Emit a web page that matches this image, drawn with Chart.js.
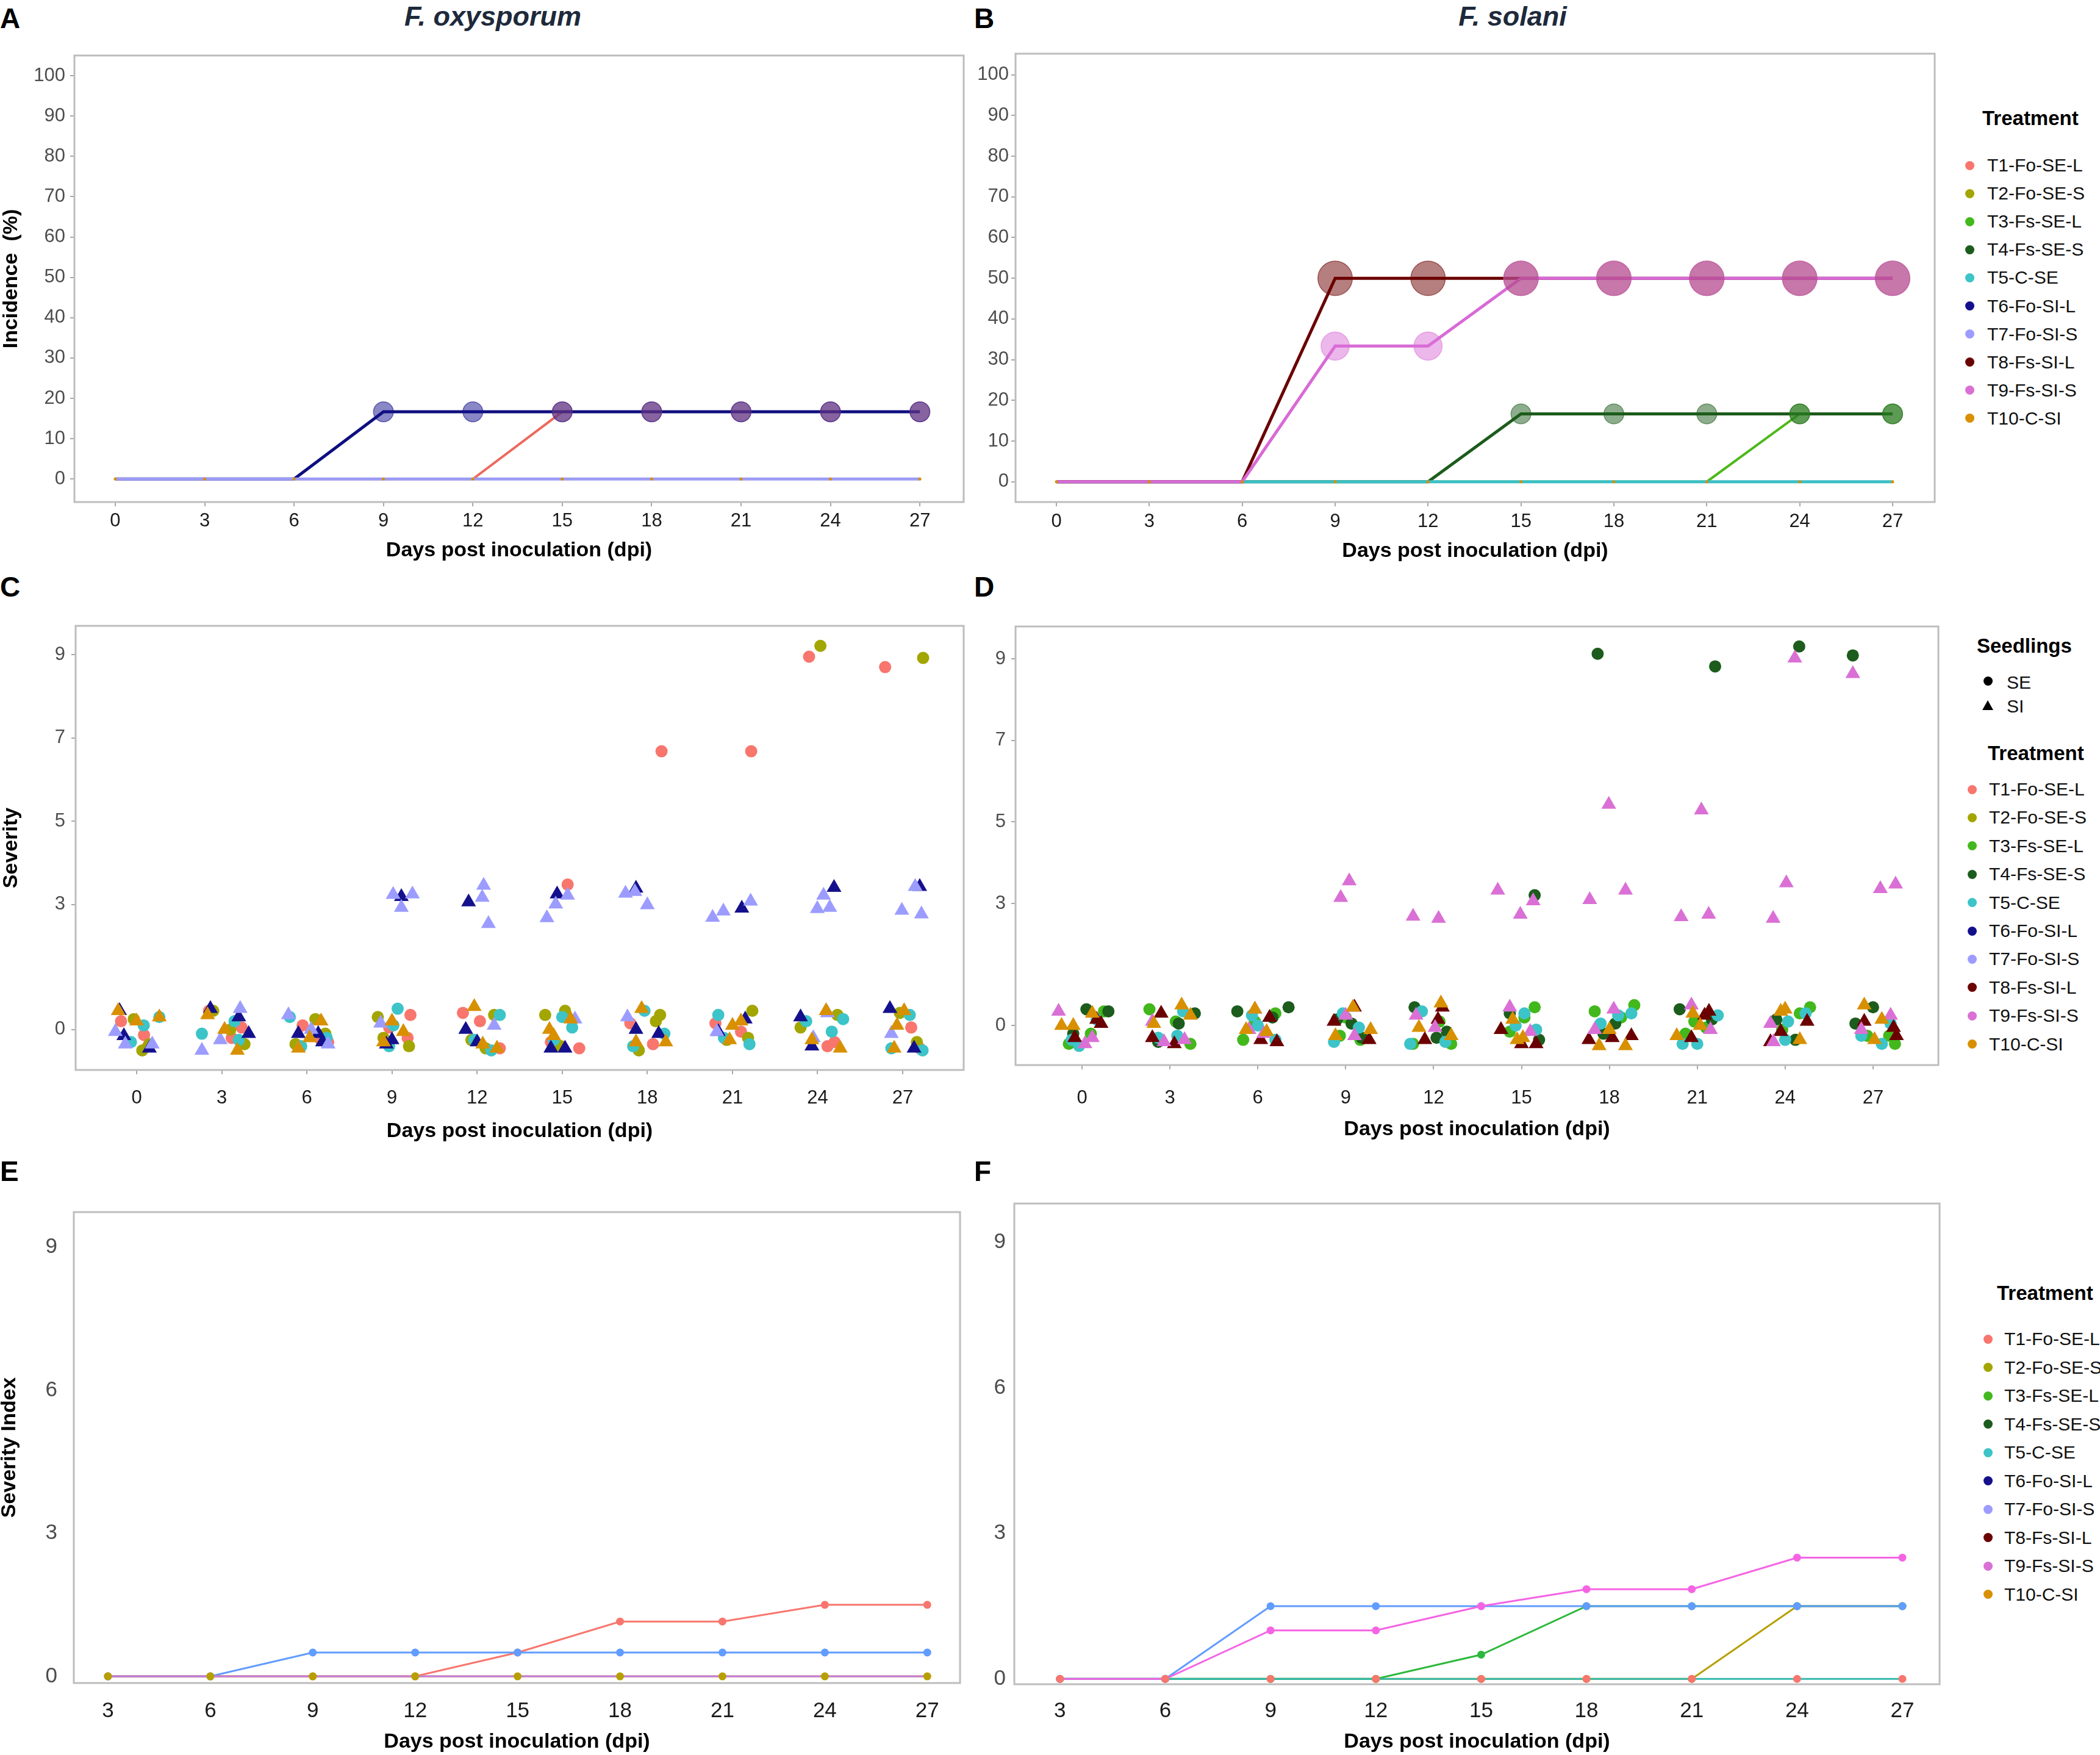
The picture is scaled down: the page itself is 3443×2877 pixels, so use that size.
<!DOCTYPE html>
<html><head><meta charset="utf-8">
<script src="https://cdn.jsdelivr.net/npm/chart.js@4.4.1/dist/chart.umd.min.js"></script>
<style>
html,body{margin:0;padding:0;background:#fff;}
#page{position:relative;width:3443px;height:2877px;background:#fff;overflow:hidden;font-family:'Liberation Sans',Arial,Helvetica,sans-serif;}
.txt{position:absolute;white-space:nowrap;color:#000;}
.dot{position:absolute;border-radius:50%;}
.tri{position:absolute;width:0;height:0;border-left:9px solid transparent;border-right:9px solid transparent;border-bottom:16px solid #000;}
</style></head>
<body><div id="page"></div>
<script>
// ---------------- DATA ----------------
const days = [0,3,6,9,12,15,18,21,24,27];
const daysIdx = [3,6,9,12,15,18,21,24,27];
const ticksDays = [0,3,6,9,12,15,18,21,24,27];
const ticksDaysIdx = [3,6,9,12,15,18,21,24,27];
const ticksIncidence = [0,10,20,30,40,50,60,70,80,90,100];
const ticksSeverity = [0,3,5,7,9];
const ticksIndex = [0,3,6,9];
const treatments = ['T1-Fo-SE-L','T2-Fo-SE-S','T3-Fs-SE-L','T4-Fs-SE-S','T5-C-SE','T6-Fo-SI-L','T7-Fo-SI-S','T8-Fs-SI-L','T9-Fs-SI-S','T10-C-SI'];
const treatmentColors = ['#F8766D','#A3A500','#42B81C','#1C5C1C','#3CC4C8','#14108C','#9C9CFF','#6B0000','#DA70D6','#D89000'];

// Panel A : incidence (%), F. oxysporum
const incA_T1 = [0,0,0,0,0,16.67,16.67,16.67,16.67,16.67];
const incA_T6 = [0,0,0,16.67,16.67,16.67,16.67,16.67,16.67,16.67];
const incA_T7 = [0,0,0,0,0,0,0,0,0,0];
const incA_T10 = [0,0,0,0,0,0,0,0,0,0];
// Panel B : incidence (%), F. solani
const incB_T3 = [0,0,0,0,0,0,0,0,16.67,16.67];
const incB_T4 = [0,0,0,0,0,16.67,16.67,16.67,16.67,16.67];
const incB_T5 = [0,0,0,0,0,0,0,0,0,0];
const incB_T8 = [0,0,0,50,50,50,50,50,50,50];
const incB_T9 = [0,0,0,33.33,33.33,50,50,50,50,50];
const incB_T10 = [0,0,0,0,0,0,0,0,0,0];

// Panel C : severity (jittered observations), F. oxysporum
const sevC_T1_x = [0.26,0.40,-0.55,2.55,3.35,3.7,5.85,6.5,6.75,8.9,9.55,9.65,11.5,12.8,12.1,15.19,14.6,15.6,18.5,17.4,18.2,21.66,20.4,21.3,23.7,24.6,24.35,26.38,27.3,27.6];
const sevC_T1_y = [-0.13,-0.4,0.2,0.45,-0.2,0.05,0.1,-0.25,-0.3,0.05,-0.2,0.35,0.4,-0.45,0.2,3.48,-0.3,-0.45,6.68,0.15,-0.35,6.68,0.15,-0.05,8.95,-0.3,-0.4,8.7,0.05,-0.45];
const sevC_T2_x = [-0.1,0.45,0.2,3.8,2.7,3.3,6.65,5.6,6.3,8.5,8.7,9.6,12.6,12.3,11.8,14.4,15.1,14.95,18.45,17.7,18.3,21.7,20.8,21.55,24.1,23.4,24.7,27.72,26.9,27.5];
const sevC_T2_y = [0.25,-0.35,-0.5,-0.35,0.45,0.0,-0.1,-0.35,0.25,0.3,-0.2,-0.4,0.35,-0.45,-0.25,0.35,0.45,-0.4,0.35,-0.5,0.2,0.45,-0.25,-0.2,9.21,0.05,0.35,8.92,0.4,-0.3];
const sevC_T5_x = [0.8,-0.2,0.25,3.45,2.3,3.6,5.4,5.8,6.7,9.2,8.9,9.05,12.8,11.9,12.5,15.0,14.7,15.35,17.5,18.6,17.9,20.5,21.6,20.7,24.5,23.6,24.9,27.25,26.6,27.7];
const sevC_T5_y = [0.3,-0.3,0.1,0.2,-0.1,-0.25,0.3,-0.4,-0.2,0.5,-0.4,0.1,0.35,-0.25,-0.5,0.3,-0.25,0.05,-0.4,-0.1,0.45,0.35,-0.35,-0.2,-0.05,0.2,0.25,0.35,-0.45,-0.5];
const sevC_T6_x = [-0.6,-0.45,0.45,2.6,3.6,3.95,5.7,6.4,6.55,9.33,8.8,9.0,11.7,11.6,12.0,14.82,14.6,15.1,17.6,17.6,18.4,21.33,20.5,21.45,24.58,23.4,23.8,27.6,26.55,27.4];
const sevC_T6_y = [0.45,-0.15,-0.45,0.5,0.3,-0.1,-0.1,-0.1,-0.3,3.19,-0.35,-0.25,3.06,0.0,-0.3,3.25,-0.45,-0.45,3.39,0.0,-0.1,2.91,-0.05,0.25,3.41,0.3,-0.4,3.43,0.5,-0.45];
const sevC_T7_x = [-0.75,-0.4,0.55,2.3,3.65,2.95,5.35,6.15,6.75,9.04,9.72,9.33,12.18,12.23,12.4,14.46,14.77,15.19,17.23,17.56,18.0,20.3,20.68,21.64,23.99,24.21,24.43,26.97,27.44,27.66,8.6,12.6,15.45,17.3,20.45,23.85,26.6,24.35];
const sevC_T7_y = [-0.05,-0.35,-0.35,-0.5,0.5,-0.25,0.35,0.0,-0.35,3.24,3.25,2.93,3.17,3.46,2.54,2.68,3.01,3.22,3.27,3.31,2.99,2.69,2.84,3.08,2.9,3.22,2.93,2.86,3.43,2.77,0.15,0.1,0.25,0.3,-0.05,-0.2,-0.1,0.4];
const sevC_T10_x = [-0.65,0.0,0.8,2.5,3.1,3.55,5.7,6.1,6.5,9.0,8.7,9.4,11.9,12.7,12.2,14.55,14.7,15.3,17.6,18.65,17.8,20.9,21.3,21.0,23.8,24.8,24.3,26.8,27.05,26.7];
const sevC_T10_y = [0.45,0.2,0.3,0.35,0.0,-0.5,-0.45,-0.2,0.2,0.2,-0.3,-0.05,0.55,-0.45,-0.35,0.0,-0.15,0.25,-0.3,-0.3,0.5,-0.25,0.2,0.1,-0.25,-0.45,0.45,0.1,0.45,-0.45];

// Panel D : severity (jittered observations), F. solani
const sevD_T3_x = [-0.45,0.3,0.75,2.3,3.7,3.2,5.5,6.6,5.9,8.8,9.5,9.0,11.3,12.6,12.2,14.6,15.45,15.1,17.5,18.4,18.85,20.6,21.3,20.9,23.9,24.85,24.5,26.8,27.55,27.75];
const sevD_T3_y = [-0.45,-0.2,0.35,0.4,-0.45,0.1,-0.35,0.3,0.1,-0.25,-0.35,0.2,-0.45,-0.45,0.1,-0.15,0.45,0.2,0.35,0.2,0.5,-0.2,-0.05,0.1,-0.1,0.45,0.3,-0.25,-0.25,-0.45];
const sevD_T4_x = [0.15,0.9,-0.3,3.3,2.6,3.85,5.3,6.5,7.05,8.7,9.2,9.55,11.35,12.45,12.1,15.45,14.6,15.6,17.6,18.2,17.8,21.61,20.4,21.5,24.48,24.35,23.7,26.31,26.4,27.0];
const sevD_T4_y = [0.4,0.35,-0.2,0.05,-0.4,0.3,0.35,0.2,0.45,0.15,0.05,-0.3,0.45,-0.15,-0.3,3.2,0.3,-0.35,9.13,0.05,-0.2,8.82,0.4,0.15,9.31,-0.35,0.15,9.09,0.05,0.45];
const sevD_T5_x = [-0.35,-0.1,0.5,2.6,3.25,3.45,5.8,6.0,6.6,8.9,9.45,8.6,11.2,11.6,12.4,15.1,14.8,15.5,18.3,17.7,18.75,20.5,21.0,21.7,24.1,24.0,24.7,26.6,27.3,27.6];
const sevD_T5_y = [-0.35,-0.5,0.15,-0.3,-0.25,0.35,0.25,0.0,-0.35,0.3,-0.05,-0.4,-0.45,0.35,-0.4,0.3,0.0,-0.1,0.25,0.05,0.3,-0.45,-0.45,0.25,0.1,-0.35,0.3,-0.25,-0.45,0.05];
const sevD_T8_x = [-0.25,0.5,0.65,2.4,2.7,3.15,6.1,6.65,6.4,8.6,9.3,9.8,11.7,12.15,12.3,14.3,15.0,15.5,17.3,18.1,18.75,20.8,21.25,21.4,23.5,23.85,24.75,26.7,27.7,27.8];
const sevD_T8_y = [-0.3,0.15,0.05,-0.3,0.3,-0.45,-0.35,-0.4,0.2,0.1,0.45,-0.35,-0.35,0.15,0.45,-0.1,-0.45,-0.45,-0.35,-0.3,-0.25,-0.3,0.25,0.35,-0.4,-0.15,0.1,0.1,-0.05,-0.25];
const sevD_T9_x = [8.83,9.12,11.3,12.17,14.19,14.96,15.4,17.33,17.98,18.55,20.45,21.14,21.39,23.59,24.04,24.33,26.31,27.25,27.77,-0.8,0.1,0.35,2.4,2.8,3.5,5.7,5.9,6.2,9.3,9.0,11.4,12.05,14.6,15.3,17.5,18.15,20.8,21.45,23.6,23.5,26.6,27.6];
const sevD_T9_y = [3.14,3.55,2.68,2.63,3.32,2.73,3.06,3.09,5.43,3.32,2.67,5.29,2.73,2.63,3.5,9.02,8.64,3.36,3.47,0.35,-0.45,-0.3,0.1,-0.4,-0.35,-0.1,0.4,-0.2,-0.25,0.25,0.25,-0.05,0.45,-0.15,-0.1,0.4,0.5,-0.1,-0.4,0.05,-0.1,0.25];
const sevD_T10_x = [-0.7,-0.3,0.35,2.45,3.4,3.7,5.6,5.9,6.3,8.65,9.25,9.85,11.5,12.25,12.6,14.7,14.85,15.05,17.65,18.0,18.55,20.3,20.85,21.1,23.85,24.0,24.5,26.7,27.05,27.3];
const sevD_T10_y = [0.0,0.0,0.3,0.05,0.5,0.25,-0.1,0.4,-0.15,-0.25,0.45,-0.1,-0.05,0.55,-0.25,0.15,-0.35,-0.3,-0.5,-0.1,-0.5,-0.25,0.3,0.0,0.35,0.4,-0.35,0.5,-0.35,0.15];

// Panel E : severity index, F. oxysporum
const sidxE_red = [0,0,0,0,0.5,1.15,1.15,1.5,1.5];
const sidxE_blue = [0,0,0.5,0.5,0.5,0.5,0.5,0.5,0.5];
const sidxE_purple = [0,0,0,0,0,0,0,0,0];
const sidxE_olive = [0,0,0,0,0,0,0,0,0];
// Panel F : severity index, F. solani
const sidxF_olive = [0,0,0,0,0,0,0,1.5,1.5];
const sidxF_green = [0,0,0,0,0.5,1.5,1.5,1.5,1.5];
const sidxF_blue = [0,0,1.5,1.5,1.5,1.5,1.5,1.5,1.5];
const sidxF_teal = [0,0,0,0,0,0,0,0,0];
const sidxF_pink = [0,0,1.0,1.0,1.5,1.85,1.85,2.5,2.5];
const sidxF_red = [0,0,0,0,0,0,0,0,0];

// ---------------- RENDER ----------------
const FONT = "'Liberation Sans', Arial, Helvetica, sans-serif";
Chart.defaults.font.family = FONT;
const X_TITLE = 'Days post inoculation (dpi)';
const page = document.getElementById('page');
const T = i => treatmentColors[i - 1];

function rgba(hex, a){const n=parseInt(hex.slice(1),16);return `rgba(${(n>>16)&255},${(n>>8)&255},${n&255},${a})`;}
function series(xs, ys){return xs.map((x,i)=>({x:x,y:ys[i]}));}

const boxPlugin = {id:'box', afterDatasetsDraw(chart){const {ctx,chartArea:a}=chart;ctx.save();ctx.strokeStyle='#bdbdbd';ctx.lineWidth=3;ctx.strokeRect(a.left,a.top,a.right-a.left,a.bottom-a.top);ctx.restore();}};

function xAxis(g, min, max, tv, o){
  return {type:'linear', position:'bottom', min:min, max:max,
    afterBuildTicks: s => { s.ticks = tv.map(v => ({value:v})); },
    afterFit: s => { s.height = g.xH; },
    grid:{display:o.tick, drawOnChartArea:false, drawTicks:o.tick, tickLength:o.tick?7:0, color:'#a8a8a8', lineWidth:2},
    border:{display:false},
    ticks:{autoSkip:false, maxRotation:0, minRotation:0, padding:o.pad, color:'#1a1a1a', font:{size:o.fs, family:FONT}},
    title:{display:true, text:X_TITLE, color:'#000', font:{size:34, weight:'bold', family:FONT}, padding:0}};
}
function yAxis(g, min, max, tv, o){
  return {type:'linear', position:'left', min:min, max:max,
    afterBuildTicks: s => { s.ticks = tv.map(v => ({value:v})); },
    afterFit: s => { s.width = g.yW; },
    grid:{display:o.tick, drawOnChartArea:false, drawTicks:o.tick, tickLength:o.tick?7:0, color:'#a8a8a8', lineWidth:2},
    border:{display:false},
    ticks:{padding:o.pad, color:'#4d4d4d', font:{size:o.fs, family:FONT}},
    title: o.title ? {display:true, text:o.title, color:'#000', font:{size:34, weight:'bold', family:FONT}, padding:{top:o.tpad, bottom:0}} : {display:false}};
}
function makeChart(g, datasets, scales){
  const W = g.yW + (g.R - g.L) + g.padR, H = g.padT + (g.B - g.T) + g.xH;
  const c = document.createElement('canvas');
  c.width = W; c.height = H;
  c.style.cssText = `position:absolute;left:${g.L-g.yW}px;top:${g.T-g.padT}px;width:${W}px;height:${H}px;`;
  page.appendChild(c);
  return new Chart(c, {type:'scatter', data:{datasets:datasets.slice().reverse()},
    options:{responsive:false, devicePixelRatio:1, animation:false, events:[],
      layout:{padding:{top:g.padT, right:g.padR, left:0, bottom:0}},
      plugins:{legend:{display:false}, tooltip:{enabled:false}}, scales:scales},
    plugins:[boxPlugin]});
}

// incidence helpers
const incRadius = ctx => { const v = ctx.raw ? ctx.raw.y : 0; return v > 0 ? 4*Math.sqrt(v) : 0; };
function incLine(arr, col, w){ return {data:series(days, arr), showLine:true, borderColor:col, borderWidth:w, pointRadius:0, pointHoverRadius:0}; }
function incPts(arr, col){ return {data:series(days, arr), showLine:false, pointRadius:incRadius, pointHoverRadius:incRadius, backgroundColor:rgba(col,0.5), borderColor:rgba(col,0.55), borderWidth:1.5}; }
function tinyPts(arr, col){ return {data:series(days, arr), showLine:false, pointRadius:2.5, pointHoverRadius:2.5, backgroundColor:col, borderWidth:0}; }

// Panel A
const gA = {L:122, T:91, R:1580, B:823, yW:122, xH:100, padT:30, padR:30};
makeChart(gA, [
  incLine(incA_T1, '#EC6A5E', 4), incLine(incA_T6, '#0E0E80', 5), incLine(incA_T7, '#9C9CF6', 5),
  incPts(incA_T1, T(1)), incPts(incA_T6, T(6)), tinyPts(incA_T10, T(10))
], {x:xAxis(gA,-1.37,28.47,ticksDays,{tick:true,pad:6,fs:31}), y:yAxis(gA,-5.7,105,ticksIncidence,{tick:true,pad:8,fs:31,title:'Incidence  (%)',tpad:-2})});

// Panel B
const gB = {L:1665, T:88, R:3172, B:823, yW:70, xH:101, padT:30, padR:30};
makeChart(gB, [
  incLine(incB_T3, '#4CB81A', 4), incLine(incB_T4, '#1C5C1C', 5), incLine(incB_T5, '#3CC0C4', 5),
  incLine(incB_T8, '#6B0000', 5), incLine(incB_T9, '#D86AD6', 5),
  incPts(incB_T3, T(3)), incPts(incB_T4, T(4)), incPts(incB_T8, T(8)), incPts(incB_T9, T(9)), tinyPts(incB_T10, T(10))
], {x:xAxis(gB,-1.32,28.36,ticksDays,{tick:true,pad:7,fs:31}), y:yAxis(gB,-5,105.2,ticksIncidence,{tick:true,pad:4,fs:31})});

// severity scatter helpers
function sevPts(xs, ys, col, shape){ const r = shape === 'triangle' ? 14 : 10;
  return {data:series(xs, ys), showLine:false, pointStyle:shape, pointRadius:r, pointHoverRadius:r, backgroundColor:col, borderColor:col, borderWidth:0}; }

// Panel C
const gC = {L:124, T:1026, R:1580, B:1754, yW:124, xH:121, padT:30, padR:30};
makeChart(gC, [
  sevPts(sevC_T1_x, sevC_T1_y, T(1), 'circle'), sevPts(sevC_T2_x, sevC_T2_y, T(2), 'circle'),
  sevPts(sevC_T5_x, sevC_T5_y, T(5), 'circle'), sevPts(sevC_T6_x, sevC_T6_y, T(6), 'triangle'),
  sevPts(sevC_T7_x, sevC_T7_y, T(7), 'triangle'), sevPts(sevC_T10_x, sevC_T10_y, T(10), 'triangle')
], {x:xAxis(gC,-2.15,29.15,ticksDays,{tick:true,pad:21,fs:31}), y:yAxis(gC,-0.97,9.69,ticksSeverity,{tick:true,pad:10,fs:31,title:'Severity',tpad:-2})});

// Panel D
const gD = {L:1665, T:1027, R:3178, B:1746, yW:70, xH:126, padT:30, padR:30};
makeChart(gD, [
  sevPts(sevD_T3_x, sevD_T3_y, T(3), 'circle'), sevPts(sevD_T4_x, sevD_T4_y, T(4), 'circle'),
  sevPts(sevD_T5_x, sevD_T5_y, T(5), 'circle'), sevPts(sevD_T8_x, sevD_T8_y, T(8), 'triangle'),
  sevPts(sevD_T9_x, sevD_T9_y, T(9), 'triangle'), sevPts(sevD_T10_x, sevD_T10_y, T(10), 'triangle')
], {x:xAxis(gD,-2.27,29.23,ticksDays,{tick:true,pad:29,fs:31}), y:yAxis(gD,-0.97,9.8,ticksSeverity,{tick:true,pad:9,fs:31})});

// severity index helpers
const PAL6 = {red:'#F8766D', olive:'#B79F00', green:'#2DB83C', teal:'#34B8AC', blue:'#619CFF', pink:'#F564E3', purple:'#C77CE6'};
function idxLine(arr, col){ return {data:series(daysIdx, arr), showLine:true, borderColor:col, borderWidth:3, pointRadius:0, pointHoverRadius:0}; }
function idxPts(arr, col){ return {data:series(daysIdx, arr), showLine:false, pointRadius:6.5, pointHoverRadius:6.5, backgroundColor:col, borderWidth:0}; }

// Panel E
const gE = {L:121, T:1969, R:1574, B:2759, yW:121, xH:117, padT:30, padR:30};
makeChart(gE, [
  idxLine(sidxE_red, PAL6.red), idxLine(sidxE_blue, PAL6.blue), idxLine(sidxE_olive, PAL6.olive), idxLine(sidxE_purple, PAL6.purple),
  idxPts(sidxE_red, PAL6.red), idxPts(sidxE_blue, PAL6.blue), idxPts(sidxE_olive, PAL6.olive)
], {x:xAxis(gE,2.0,27.96,ticksDaysIdx,{tick:false,pad:25,fs:35}), y:yAxis(gE,-0.14,9.74,ticksIndex,{tick:false,pad:27,fs:35,title:'Severity Index',tpad:-5})});

// Panel F
const gF = {L:1663, T:1968, R:3180, B:2761, yW:70, xH:115, padT:30, padR:30};
makeChart(gF, [
  idxLine(sidxF_olive, PAL6.olive), idxLine(sidxF_green, PAL6.green), idxLine(sidxF_blue, PAL6.blue),
  idxLine(sidxF_teal, PAL6.teal), idxLine(sidxF_pink, PAL6.pink),
  idxPts(sidxF_olive, PAL6.olive), idxPts(sidxF_green, PAL6.green), idxPts(sidxF_blue, PAL6.blue),
  idxPts(sidxF_pink, PAL6.pink), idxPts(sidxF_red, PAL6.red)
], {x:xAxis(gF,1.7,28.06,ticksDaysIdx,{tick:false,pad:23,fs:35}), y:yAxis(gF,-0.11,9.8,ticksIndex,{tick:false,pad:14,fs:35})});

// ---------------- TEXT: letters, titles, legends ----------------
function addText(text, left, cy, css, center){
  const d = document.createElement('div'); d.className = 'txt'; d.textContent = text;
  d.style.cssText += css + `;left:${left}px;top:${cy}px;line-height:1;transform:translate(${center?'-50%':'0'},-50%);`;
  page.appendChild(d); return d;
}
function addDot(cx, cy, col, r){ const d = document.createElement('div'); d.className='dot';
  d.style.cssText += `left:${cx-r}px;top:${cy-r}px;width:${2*r}px;height:${2*r}px;background:${col};`; page.appendChild(d); }
function addTri(cx, cy){ const d = document.createElement('div'); d.className='tri'; d.style.left=(cx-9)+'px'; d.style.top=(cy-9)+'px'; page.appendChild(d); }

const LETTER = 'font-weight:bold;font-size:46px;';
[['A',0,30],['B',1597,30],['C',0,962],['D',1597,962],['E',0,1920],['F',1597,1920]].forEach(a => addText(a[0], a[1], a[2], LETTER));
addText('F. oxysporum', 808, 26, 'font-weight:bold;font-style:italic;font-size:45px;color:#1e2a3b;', true);
addText('F. solani', 2480, 26, 'font-weight:bold;font-style:italic;font-size:45px;color:#1e2a3b;', true);

function treatmentLegend(titleX, titleY, dotX, textX, y0, step){
  addText('Treatment', titleX, titleY, 'font-weight:bold;font-size:33px;');
  treatments.forEach((t,i) => { addDot(dotX, y0+i*step, treatmentColors[i], 7.5); addText(t, textX, y0+i*step, 'font-size:30px;color:#111;'); });
}
treatmentLegend(3250, 193, 3229, 3258, 271, 46.1);
addText('Seedlings', 3241, 1058, 'font-weight:bold;font-size:33px;');
addDot(3259, 1116, '#000', 7.5); addText('SE', 3290, 1119, 'font-size:30px;color:#111;');
addTri(3259, 1157); addText('SI', 3290, 1158, 'font-size:30px;color:#111;');
treatmentLegend(3259, 1234, 3233, 3261, 1294, 46.4);
treatmentLegend(3274, 2119, 3259, 3286, 2195, 46.5);
</script>
</body></html>
